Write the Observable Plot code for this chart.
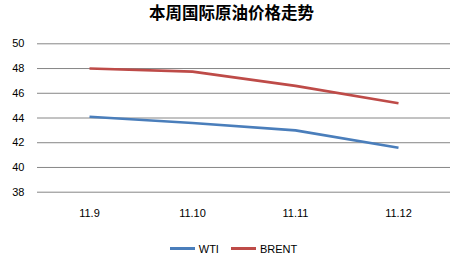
<!DOCTYPE html>
<html><head><meta charset="utf-8">
<script src="https://cdn.jsdelivr.net/npm/d3@7"></script>
<script src="https://cdn.jsdelivr.net/npm/@observablehq/plot@0.6"></script>
<style>
body{margin:0;background:#fff;width:463px;height:265px;overflow:hidden;font-family:"Liberation Sans",Arial,sans-serif;}
#title{height:32px;line-height:36px;text-align:center;font:bold 16.5px "Noto Sans CJK SC",sans-serif;color:#000;}
#legend{height:33px;display:flex;justify-content:center;align-items:center;font-size:11px;color:#000;padding-left:4px;}
.item{display:flex;align-items:center;margin:0 6px;}
.sw{display:inline-block;width:25px;height:3px;margin-right:4px;}
</style></head>
<body>
<div id="title">本周国际原油价格走势</div>
<div id="chart"></div>
<div id="legend"></div>
<script>
const categories = ["11.9","11.10","11.11","11.12"];
const wti = [44.1, 43.6, 43.0, 41.6];
const brent = [48.0, 47.75, 46.6, 45.2];
const seriesNames = ["WTI","BRENT"];
const colors = ["#4A7EBB","#BE4B48"];
const yTicks = [38,40,42,44,46,48,50];

const data = [];
categories.forEach((c,i)=>{
  data.push({cat:c, value:wti[i], series:"WTI"});
  data.push({cat:c, value:brent[i], series:"BRENT"});
});

const chart = Plot.plot({
  width:463, height:200,
  marginTop:11.3, marginBottom:40.3, marginLeft:37, marginRight:13,
  style:{fontFamily:"'Liberation Sans', Arial, sans-serif", fontSize:"11px", color:"#000", background:"#fff"},
  x:{type:"point", domain:categories, padding:0.5, label:null},
  y:{domain:[38,50], ticks:yTicks, label:null},
  color:{domain:seriesNames, range:colors},
  marks:[
    Plot.ruleY(yTicks, {stroke:"#868686", strokeWidth:1, strokeOpacity:1}),
    Plot.axisY({ticks:yTicks, tickSize:0, tickPadding:13, label:null, fontSize:11, tickFormat:d=>String(d)}),
    Plot.axisX({tickSize:0, tickPadding:17, label:null, fontSize:11}),
    Plot.line(data, {x:"cat", y:"value", z:"series", stroke:"series", strokeWidth:2.6, strokeLinecap:"butt"})
  ]
});
document.getElementById("chart").appendChild(chart);

const lg = document.getElementById("legend");
seriesNames.forEach((s,i)=>{
  const it = document.createElement("span"); it.className="item";
  const sw = document.createElement("span"); sw.className="sw"; sw.style.background=colors[i];
  it.appendChild(sw); it.appendChild(document.createTextNode(s));
  lg.appendChild(it);
});
</script>
</body></html>
